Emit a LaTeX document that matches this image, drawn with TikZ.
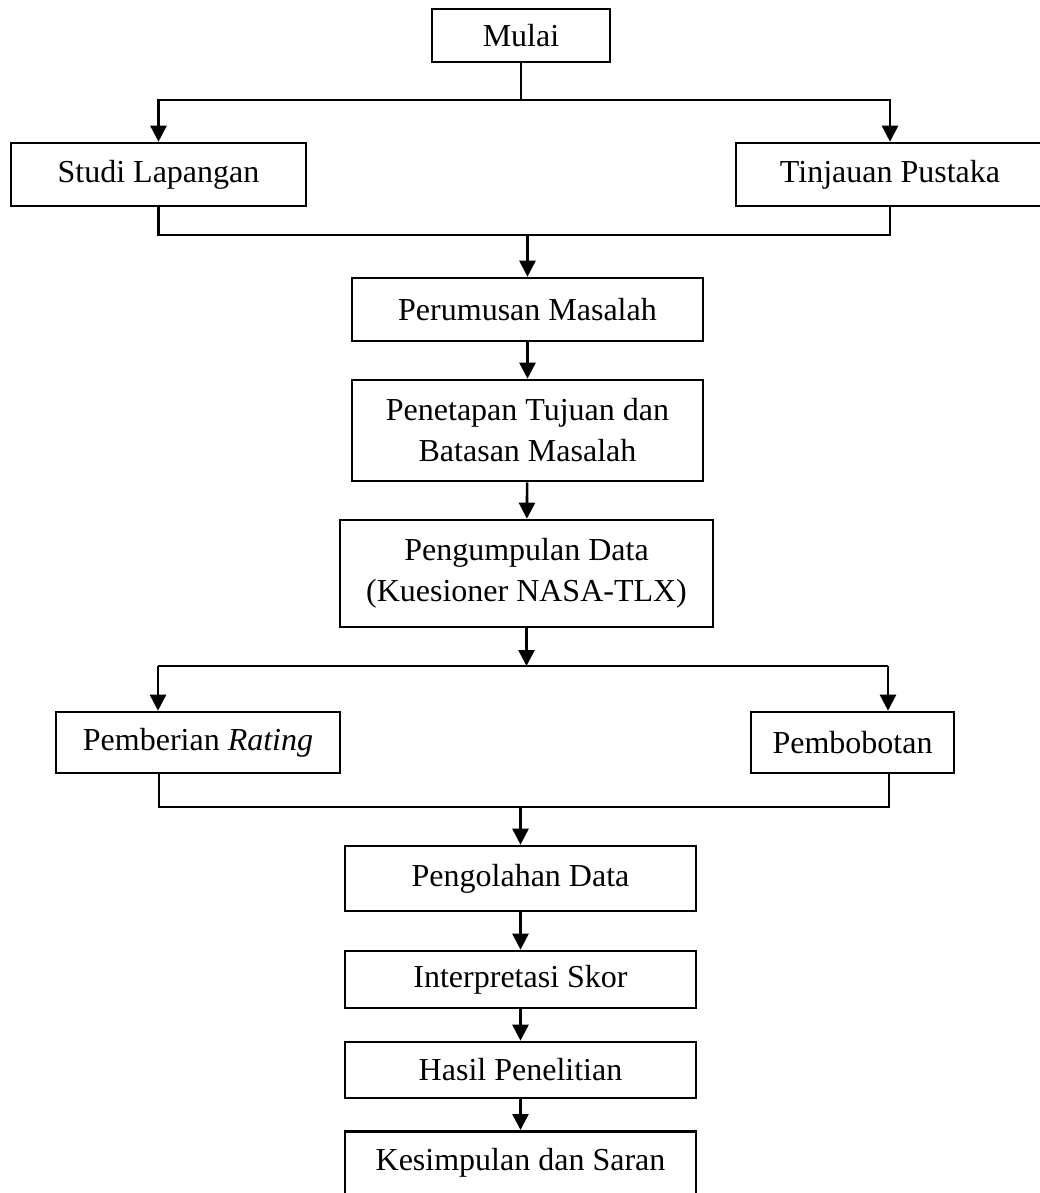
\documentclass[tikz,border=0pt]{standalone}
\usepackage{fontspec}
\setmainfont{Liberation Serif}
\usetikzlibrary{arrows.meta,calc}
\begin{document}
\begin{tikzpicture}[x=1pt,y=-1pt,
  box/.style={draw,line width=2.6pt,rectangle,inner sep=0pt,align=center,
    font=\fontsize{32pt}{41pt}\selectfont},
  conn/.style={line width=2.6pt},
  arr/.style={line width=2.6pt,-{Triangle[length=16pt,width=16pt]}}]
\useasboundingbox (0,0) rectangle (1040,1193);
\fill[white] (0,0) rectangle (1040,1193);
% nodes
\node[box,minimum width=178pt,minimum height=53pt] (mulai) at (521,35.5) {Mulai};
\node[box,minimum width=295pt,minimum height=63pt] (studi) at (158.5,174.5) {Studi Lapangan};
\node[box,minimum width=308pt,minimum height=63pt] (tinjauan) at (890,174.5) {Tinjauan Pustaka};
\node[box,minimum width=351pt,minimum height=63pt] (perumusan) at (527.5,309.5) {Perumusan Masalah};
\node[box,minimum width=351pt,minimum height=101pt] (penetapan) at (527.5,430.5) {Penetapan Tujuan dan\\Batasan Masalah};
\node[box,minimum width=373pt,minimum height=107pt] (pengumpulan) at (526.5,573.5) {Pengumpulan Data\\(Kuesioner NASA-TLX)};
\node[box,minimum width=284pt,minimum height=61pt] (pemberian) at (198,742.5) {Pemberian \textit{Rating}};
\node[box,minimum width=203pt,minimum height=61pt] (pembobotan) at (852.5,742.5) {Pembobotan};
\node[box,minimum width=351pt,minimum height=65pt] (pengolahan) at (520.5,878.5) {Pengolahan Data};
\node[box,minimum width=351pt,minimum height=57pt] (interpretasi) at (520.5,979.5) {Interpretasi Skor};
\node[box,minimum width=351pt,minimum height=56pt] (hasil) at (520.5,1070) {Hasil Penelitian};
\node[box,minimum width=351pt,anchor=north,text height=29pt,text depth=48pt,inner ysep=10pt] (kesimpulan) at (520.5,1130) {Kesimpulan dan Saran};
% junctions
\coordinate (sp1) at (521,100);
\coordinate (mg1) at (527.5,235);
\coordinate (sp2) at (526.5,666);
\coordinate (sp2l) at (158,666);
\coordinate (sp2r) at (888,666);
\coordinate (mg2l) at (159,807);
\coordinate (mg2r) at (889,807);
\coordinate (mg2) at (520.5,807);
% connectors
\draw[conn] (mulai) -- (sp1);
\draw[arr] (sp1) -| (studi.north);
\draw[arr] (sp1) -| (tinjauan.north);
\draw[conn] (studi.south) |- (mg1);
\draw[conn] (tinjauan.south) |- (mg1);
\draw[arr] (mg1) -- (perumusan);
\draw[arr] (perumusan) -- (penetapan);
\draw[arr] (penetapan) -- (pengumpulan);
\draw[arr] (pengumpulan) -- (sp2);
\draw[conn] (sp2l) -- (sp2r);
\draw[arr] (sp2l) -- (sp2l |- pemberian.north);
\draw[arr] (sp2r) -- (sp2r |- pembobotan.north);
\draw[conn] (mg2l |- pemberian.south) -- (mg2l) -- (mg2r) -- (mg2r |- pembobotan.south);
\draw[arr] (mg2) -- (pengolahan);
\draw[arr] (pengolahan) -- (interpretasi);
\draw[arr] (interpretasi) -- (hasil);
\draw[arr] (hasil) -- (kesimpulan);
\end{tikzpicture}
\end{document}
